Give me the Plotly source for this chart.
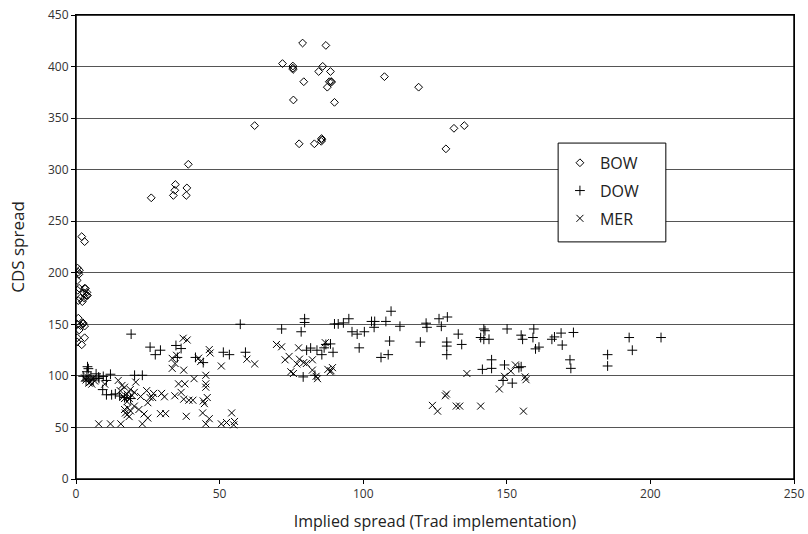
import plotly.graph_objects as go

bow_x = [78.9, 87.0, 71.9, 75.5, 75.5, 75.6, 85.9, 84.5, 88.6, 79.3, 88.2, 88.8, 89.0, 107.4, 87.5, 119.3,
         75.7, 90.0, 62.2, 135.2, 131.6, 128.8, 77.7, 83.0, 85.4, 85.6, 85.5, 39.1, 26.2, 33.9, 34.4, 34.6,
         38.6, 38.4, 2.0, 3.0, 0.5, 1.2, 0.8, 1.0, 0.4, 1.1, 3.0, 0.6, 1.5, 0.8, 2.8, 3.6, 2.9, 2.2, 3.3,
         3.8, 4.0, 0.8, 0.5, 1.6, 2.5, 3.0, 1.1, 0.4, 3.0, 0.4, 2.0, 2.4]
bow_y = [422.8, 420.5, 402.9, 400.5, 398.5, 397.2, 400.2, 395.2, 395.2, 385.3, 385.3, 385.5, 385.0, 390.2, 380, 380,
         367.6, 365.3, 342.7, 342.7, 340.1, 320.2, 325.1, 325.1, 327.5, 329.0, 330.2, 305.2, 272.7, 275, 280, 285.6,
         282.3, 275, 235.1, 230.2, 204.6, 202.5, 200.5, 198.5, 192.6, 185, 185, 183, 175.4, 173, 180.3, 178, 175.4, 172, 184.7,
         181, 178, 156, 150, 148.8, 150.5, 148.3, 144.5, 137, 137, 133, 130.2, 151.5]

dow_x = [57.2, 19.2, 25.8, 27.6, 29.4, 34.8, 36.6, 35.3, 41.6, 44.3, 51.3, 53.4, 59.0, 71.6, 78.4, 79.6, 79.6,
         83.9, 80.3, 86.4, 87.0, 85.6, 89.5, 90.0, 91.3, 93.1, 95.0, 96.1, 100.4, 97.9, 98.6, 102.9, 104.0,
         103.8, 107.9, 109.7, 109.2, 112.8, 106.2, 108.7, 79.1, 83.2, 119.9, 121.9, 122.2, 126.4, 127.2, 129.3,
         129.1, 129.1, 129.1, 133.1, 134.3, 140.9, 142.0, 142.4, 143.8, 142.0, 144.7, 144.7, 141.5, 150.1, 149.2,
         148.7, 151.9, 155.0, 155.5, 155.0, 154.2, 159.4, 159.1, 160.0, 161.2, 165.7, 166.6, 168.9, 169.3, 173.2,
         172.0, 172.3, 185.1, 185.1, 192.6, 193.7, 203.7,
         4.0, 4.3, 3.8, 2.5, 5.2, 7.0, 7.9, 9.5, 12.0, 10.6, 9.3, 10.6, 12.4, 13.7, 16.9, 20.4, 23.1, 4.5, 3.5,
         6.0, 8.0, 15.2, 19.0, 88.6, 81.7]
dow_y = [150.1, 140.5, 127.9, 120.6, 124.9, 129.5, 126.5, 117.9, 117.9, 112.9, 122.9, 120.6, 122.9, 145.5, 142.8, 155.4, 151.8,
         124.9, 124.9, 127.2, 130.5, 120.6, 122.9, 150.4, 150.4, 151.4, 155.4, 142.8, 142.8, 140.5, 127.2, 152.8, 152.8,
         147.1, 152.8, 162.7, 133.8, 148.1, 117.9, 120.6, 99.0, 100.6, 132.8, 151.1, 147.1, 155.4, 148.1, 157.1,
         132.8, 128.9, 120.6, 140.5, 130.5, 137.2, 145.5, 143.8, 135.5, 135.5, 115.6, 107.3, 106.3, 145.5, 110.6,
         95.6, 93.0, 139.5, 135.5, 108.9, 108.0, 145.5, 137.2, 126.2, 127.9, 135.5, 137.8, 141.5, 129.9, 142.1,
         115.6, 107.3, 120.6, 109.6, 137.2, 124.9, 137.2,
         108.9, 107.0, 104.0, 99.6, 99.0, 102.0, 99.0, 99.5, 101.6, 95.6, 86.7, 81.7, 81.7, 82.5, 79.0, 100.6, 100.6, 97.0, 95.0,
         96.0, 97.5, 80.5, 78.0, 131.0, 127.0]

mer_x = [3.5, 4.5, 5.5, 6.5, 4.0, 6.0, 3.0, 5.0, 7.9, 12.0, 15.6, 23.1, 50.6, 52.4, 54.2, 54.9, 55.2, 45.2, 46.4,
         44.1, 38.4, 29.4, 31.2, 21.9, 23.7, 25.0, 20.3, 16.9, 17.8, 17.2, 18.0, 19.0, 18.5, 14.7, 16.0, 15.4,
         16.9, 17.8, 16.9, 18.6, 19.5, 20.3, 18.9, 16.5, 17.8, 20.8, 24.6, 25.8, 25.0, 26.7, 29.8, 30.8, 33.5,
         34.4, 35.7, 36.6, 37.5, 37.9, 37.5, 38.7, 37.3, 43.4, 41.1, 42.7, 46.4, 46.7, 45.2, 45.2, 45.2, 44.3,
         44.7, 45.7, 40.7, 39.3, 50.6, 59.5, 62.2, 69.8, 71.6, 72.8, 74.2, 74.8, 75.7, 76.9, 77.5, 77.8, 79.3,
         80.2, 82.3, 82.3, 83.6, 84.1, 86.8, 87.7, 88.5, 89.3, 88.8, 136.1, 124.1, 125.9, 128.6, 129.0, 132.4,
         133.6, 140.9, 147.4, 149.2, 151.4, 153.0, 156.4, 156.7, 155.8, 33.5, 34.5, 35.0, 27.0, 22.5, 10.0]
mer_y = [96, 93, 92, 95, 99, 98, 98, 94, 53.5, 53.5, 53.5, 53.5, 53.5, 54.8, 64.1, 52.5, 55.8, 53.5, 58.5,
         64.1, 60.8, 63.4, 63.4, 67.4, 63.1, 59.1, 70.7, 67.4, 62.4, 64, 69, 66, 60.5, 95.6, 90.7, 85.7,
         89, 82.4, 78, 78, 81, 84, 86.7, 80, 75, 94, 85.7, 79, 74, 79, 83, 79.7, 107.3,
         80.7, 92.3, 84, 105.6, 92.3, 77.4, 134.8, 136.5, 113.9, 97.3, 117.2, 125.5, 122.2, 100.6, 92.3, 89, 75.7,
         73.1, 79, 76.4, 76.4, 109.6, 116.2, 111.6, 130.5, 128.2, 115.6, 118.9, 104, 102.3, 111.6, 127.2, 116.2, 112.9,
         112, 115.6, 105.6, 99.6, 97.3, 132.2, 106.3, 104, 108, 105, 102.3, 71.4, 65.8, 80.7, 82.4, 70.7,
         70.7, 70.7, 87.3, 99.6, 104.6, 110.6, 99, 96.3, 65.8, 117, 112, 120, 83, 80, 92]

x_ticks = [0, 50, 100, 150, 200, 250]
y_ticks = [0, 50, 100, 150, 200, 250, 300, 350, 400, 450]

fig = go.Figure()
fig.add_trace(go.Scatter(x=bow_x, y=bow_y, mode="markers", name="BOW", legendgroup="a",
                         marker=dict(symbol="diamond-open", size=6, color="black", line=dict(width=1, color="black"))))
fig.add_trace(go.Scatter(x=dow_x, y=dow_y, mode="markers", name="DOW", legendgroup="b",
                         marker=dict(symbol="cross-thin", size=7, color="black", line=dict(width=1, color="black"))))
fig.add_trace(go.Scatter(x=mer_x, y=mer_y, mode="markers", name="MER", legendgroup="c",
                         marker=dict(symbol="x-thin", size=7, color="black", line=dict(width=1, color="black"))))

# plot-area frame (ensures right border is drawn)
fig.add_shape(type="rect", xref="paper", yref="paper", x0=0, x1=1, y0=0, y1=1,
              line=dict(color="black", width=1.5), fillcolor="rgba(0,0,0,0)", layer="above")

# legend frame drawn as a shape so it can be as wide as the reference's
fig.add_shape(type="rect", xref="paper", yref="paper", x0=0.6715, x1=0.8215, y0=0.511, y1=0.724,
              line=dict(color="black", width=1), fillcolor="white", layer="above")

font_family = "Open Sans, Noto Sans, sans-serif"
fig.update_layout(
    width=808, height=534,
    margin=dict(l=76, r=14, t=15, b=55),
    plot_bgcolor="white", paper_bgcolor="white",
    font=dict(family=font_family, color="#222"),
    showlegend=True,
    legend=dict(x=0.674, y=0.718, xanchor="left", yanchor="top",
                bgcolor="rgba(0,0,0,0)", borderwidth=0,
                font=dict(size=16, color="#222"),
                itemsizing="trace", tracegroupgap=4),
    xaxis=dict(range=[0, 250], tickvals=x_ticks, ticks="outside", ticklen=4, tickcolor="black",
               showline=True, linecolor="black", linewidth=1, mirror=True, showgrid=False, zeroline=False,
               automargin=False,
               tickfont=dict(size=12, color="#333"),
               title=dict(text="Implied spread (Trad implementation)", font=dict(size=16, color="#222"), standoff=14)),
    yaxis=dict(range=[0, 450], tickvals=y_ticks, ticks="outside", ticklen=4, tickcolor="black",
               showline=True, linecolor="black", linewidth=1, mirror=True, showgrid=True,
               gridcolor="#555", gridwidth=1, zeroline=False,
               automargin=False,
               tickfont=dict(size=12, color="#333"),
               title=dict(text="CDS spread", font=dict(size=17, color="#222"), standoff=19)),
)

fig.write_html("out.html", config={"displayModeBar": False},
               post_script="document.body.style.margin='0';document.body.style.overflow='hidden';")
